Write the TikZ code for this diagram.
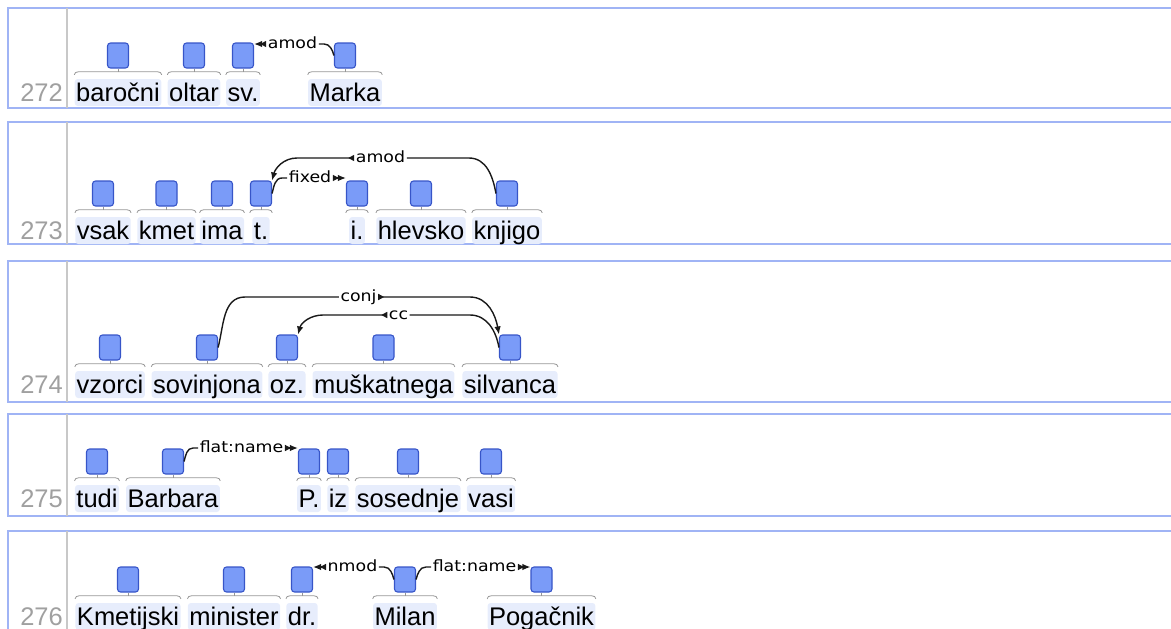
\documentclass[tikz,border=0pt]{standalone}
\usepackage{fontspec}
\setmainfont{Liberation Sans}
\newfontfamily\lblfont[FakeStretch=1.12]{DejaVu Sans}
\usetikzlibrary{arrows.meta,calc,fit}

\definecolor{framecol}{RGB}{160,180,245}
\definecolor{sepcol}{RGB}{200,200,200}
\definecolor{numcol}{RGB}{160,160,160}
\definecolor{wordbg}{RGB}{231,237,252}
\definecolor{spanfill}{RGB}{122,155,248}
\definecolor{spanline}{RGB}{55,85,200}
\definecolor{bracecol}{RGB}{150,150,150}
\definecolor{arccol}{RGB}{25,25,25}

\tikzset{
  word/.style={font=\fontsize{25.5}{30}\selectfont, fill=wordbg, rounded corners=3pt,
    inner xsep=1.5pt, inner ysep=0pt, text height=22pt, text depth=5pt, anchor=base},
  spanbox/.style={draw=spanline, fill=spanfill, line width=1.1pt, rounded corners=3pt,
    minimum width=21pt, minimum height=25pt, inner sep=0pt},
  bracket/.style={draw=bracecol, line width=0.8pt},
  rowframe/.style={draw=framecol, line width=1.6pt},
  rowsep/.style={draw=sepcol, line width=2pt},
  rownum/.style={font=\fontsize{25.5}{30}\selectfont, text=numcol, anchor=base east, inner sep=0pt},
  lbl/.style={font=\lblfont\fontsize{15.5}{18}\selectfont, inner xsep=1.5pt, inner ysep=0pt,
    text height=8pt, text depth=0pt},
  arc/.style={draw=arccol, line width=1.4pt},
  toarc/.style={arc, {Triangle[reversed,length=6pt,width=6pt]}-{Latex[length=8pt,width=6.5pt]}},
}

% frame of one sentence: number, top, bottom, baseline
\newcommand\sentframe[4]{%
  \draw[rowframe] (1180,-#2) -- (8,-#2) -- (8,-#3) -- (1180,-#3);
  \draw[rowsep] (67,-#2) -- (67,-#3);
  \node[rownum] (num#1) at (63,-#4) {#1};
}

% words of one sentence with their span boxes: baseline, list name/x/text
\newcommand\wordrow[2]{%
  \foreach \nm/\xc/\txt in {#2}{%
    \node[word] (\nm) at (\xc,-#1) {\txt};
    \node[spanbox] (\nm-s) at (\xc,-#1+45.5) {};
    \node[inner sep=0pt, fit=(\nm)(\nm-s)] (\nm-f) {};
    \draw[bracket] ($(\nm-f.west |- \nm.north)+(0,4)$) to[out=90,in=180] ($(\nm-f.west |- \nm.north)+(4,7)$)
      -- ($(\nm-f.east |- \nm.north)+(-4,7)$) to[out=0,in=90] ($(\nm-f.east |- \nm.north)+(0,4)$);
    \draw[bracket] ($(\nm.north)+(0,7)$) -- (\nm-s.south);
  }}

\begin{document}
\begin{tikzpicture}[x=1pt,y=1pt]
\useasboundingbox (0,0) rectangle (1171,-629);
\clip (0,0) rectangle (1171,-629);

\sentframe{272}{8}{108}{101}
\sentframe{273}{122}{244}{239}
\sentframe{274}{261}{402}{393}
\sentframe{275}{414}{516}{507}
\sentframe{276}{531}{650}{625}

\wordrow{101}{barocni/118/baročni, oltar/194/oltar, sv/243/sv., marka/345/Marka}
\wordrow{239}{vsak/103/vsak, kmet/166.5/kmet, ima/222/ima, t/261/t., i/357/i., hlevsko/421/hlevsko, knjigo/507/knjigo}
\wordrow{393}{vzorci/110/vzorci, sovinjona/207/sovinjona, oz/287/oz., muskatnega/383.5/muškatnega, silvanca/510/silvanca}
\wordrow{507}{tudi/97/tudi, barbara/173/Barbara, p/309/P., iz/338/iz, sosednje/408/sosednje, vasi/491/vasi}
\wordrow{625}{kmetijski/128/Kmetijski, minister/234/minister, dr/302/dr., milan/405/Milan, pogacnik/541.5/Pogačnik}

% 272
\node[lbl] (amod1) at (292.5,-44) {amod};
\draw[arc] (amod1.east) -- ($(marka-s.west |- amod1)+(-10,0)$) to[out=0,in=105] (marka-s.west);
\draw[toarc] (amod1.west) -- (amod1.west -| sv-s.east);

% 273
\node[lbl] (fixed) at (310,-178) {fixed};
\draw[arc] (t-s.east) to[out=75,in=180] ($(t-s.east |- fixed)+(10,0)$) -- (fixed.west);
\draw[toarc] (fixed.east) -- (fixed.east -| i-s.west);
\node[lbl] (amod2) at (380.5,-158) {amod};
\draw[arc] (knjigo-s.west) to[out=100,in=0] ($(knjigo-s.west |- amod2)+(-27,0)$) -- (amod2.east);
\draw[toarc] (amod2.west) -- ($(t-s.north east |- amod2)+(25,0)$) to[out=180,in=75] (t-s.north east);

% 274
\node[lbl] (conj) at (358.5,-297) {conj};
\draw[arc] (sovinjona-s.east) to[out=75,in=180] ($(sovinjona-s.east |- conj)+(27,0)$) -- (conj.west);
\draw[toarc] (conj.east) -- ($(silvanca-s.north west |- conj)+(-29,0)$) to[out=0,in=100] (silvanca-s.north west);
\node[lbl] (cc) at (398.5,-315) {cc};
\draw[arc] (silvanca-s.west) to[out=100,in=0] ($(silvanca-s.west |- cc)+(-29,0)$) -- (cc.east);
\draw[toarc] (cc.west) -- ($(oz-s.north east |- cc)+(25,0)$) to[out=180,in=75] (oz-s.north east);

% 275
\node[lbl] (flat1) at (241.5,-448) {flat:name};
\draw[arc] (barbara-s.east) to[out=75,in=180] ($(barbara-s.east |- flat1)+(9,0)$) -- (flat1.west);
\draw[toarc] (flat1.east) -- (flat1.east -| p-s.west);

% 276
\node[lbl] (nmod) at (352.5,-567) {nmod};
\draw[arc] (milan-s.west) to[out=105,in=0] ($(milan-s.west |- nmod)+(-10,0)$) -- (nmod.east);
\draw[toarc] (nmod.west) -- (nmod.west -| dr-s.east);
\node[lbl] (flat2) at (474.5,-567) {flat:name};
\draw[arc] (milan-s.east) to[out=75,in=180] ($(milan-s.east |- flat2)+(10,0)$) -- (flat2.west);
\draw[toarc] (flat2.east) -- (flat2.east -| pogacnik-s.west);
\end{tikzpicture}
\end{document}
